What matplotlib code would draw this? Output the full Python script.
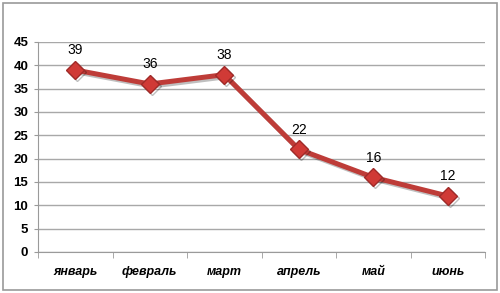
import matplotlib
matplotlib.use("Agg")
import matplotlib.pyplot as plt
import matplotlib.patheffects as pe
from matplotlib.patches import Rectangle

categories = ["январь", "февраль", "март", "апрель", "май", "июнь"]
values = [39, 36, 38, 22, 16, 12]
yticks = [0, 5, 10, 15, 20, 25, 30, 35, 40, 45]

plt.rcParams['font.family'] = ['Liberation Sans', 'DejaVu Sans']

fig = plt.figure(figsize=(5.0, 2.93), dpi=100)
fig.patches.append(Rectangle((3/500, 3/293), 494/500, 287/293, transform=fig.transFigure,
                             fill=False, edgecolor='#9a9a9a', linewidth=1.2))
ax = fig.add_axes([38/500, 1-252/293, 447/500, 210/293])

x = list(range(len(categories)))
ax.plot(x, values, color='#BE3C38', linewidth=3.6, marker='D', markersize=9,
        markerfacecolor='#D03A36', markeredgecolor='#A02A28', markeredgewidth=1,
        zorder=3,
        path_effects=[pe.SimpleLineShadow(offset=(1.5, -1.5), alpha=0.25), pe.Normal()])
for xi, v in zip(x, values):
    ax.annotate(str(v), (xi, v), xytext=(0, 9), textcoords='offset points',
                ha='center', va='bottom', fontsize=10, color='black')

ax.set_xlim(-0.5, len(categories) - 0.5)
ax.set_ylim(0, 45)
ax.set_yticks(yticks)
ax.set_yticklabels([str(t) for t in yticks], fontsize=9.5, fontweight='bold')
ax.set_xticks(x)
ax.set_xticklabels(categories, fontsize=9, fontweight='bold', fontstyle='italic')
ax.tick_params(axis='x', which='major', length=0, pad=10)
ax.set_xticks([i - 0.5 for i in range(len(categories) + 1)], minor=True)
ax.tick_params(axis='x', which='minor', length=4, color='#9a9a9a', direction='out')
ax.tick_params(axis='y', length=3, color='#9a9a9a', pad=4)
ax.grid(axis='y', color='#a8a8a8', linewidth=1)
ax.set_axisbelow(True)
for s in ['top', 'right']:
    ax.spines[s].set_visible(False)
for s in ['left', 'bottom']:
    ax.spines[s].set_color('#9a9a9a')

fig.savefig("out.png", dpi=100)
